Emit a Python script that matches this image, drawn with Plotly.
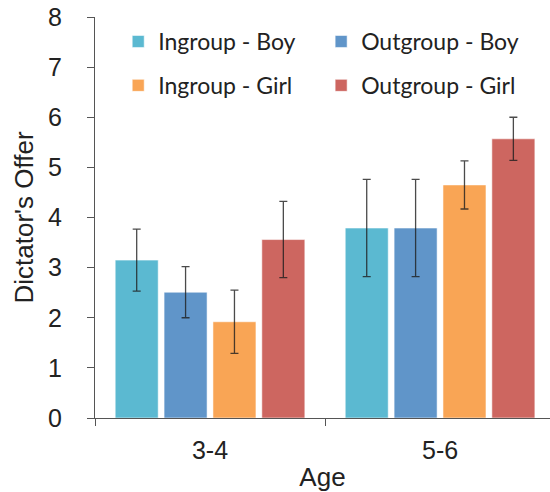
import plotly.graph_objects as go

ages = ["3-4", "5-6"]
series_names = ["Ingroup - Boy", "Outgroup - Boy", "Ingroup - Girl", "Outgroup - Girl"]
means = {
    "Ingroup - Boy": [3.15, 3.79],
    "Outgroup - Boy": [2.51, 3.79],
    "Ingroup - Girl": [1.92, 4.65],
    "Outgroup - Girl": [3.56, 5.57],
}
errors = {
    "Ingroup - Boy": [0.62, 0.97],
    "Outgroup - Boy": [0.51, 0.97],
    "Ingroup - Girl": [0.63, 0.48],
    "Outgroup - Girl": [0.76, 0.43],
}
colors = {
    "Ingroup - Boy": "#5BB9D1",
    "Outgroup - Boy": "#6095C9",
    "Ingroup - Girl": "#F9A555",
    "Outgroup - Girl": "#CD6660",
}
legend_of = {
    "Ingroup - Boy": "legend",
    "Ingroup - Girl": "legend",
    "Outgroup - Boy": "legend2",
    "Outgroup - Girl": "legend2",
}

fig = go.Figure()
for name in series_names:
    fig.add_trace(go.Bar(
        x=ages, y=means[name], name=name,
        marker=dict(color=colors[name], line=dict(color="rgba(255,255,255,0.55)", width=1)),
        error_y=dict(type="data", array=errors[name], color="rgba(30,30,30,0.8)",
                     thickness=1.3, width=4),
        legend=legend_of[name], legendgroup=name,
    ))

axis_color = "#555555"
legend_common = dict(
    orientation="v", traceorder="grouped", tracegroupgap=11,
    font=dict(family="Lato", size=23, color="#222222"),
    bgcolor="rgba(0,0,0,0)", xanchor="left", yanchor="top", y=0.9925,
)
fig.update_layout(
    width=550, height=492,
    margin=dict(l=95, r=0, t=17, b=74, autoexpand=False),
    paper_bgcolor="white", plot_bgcolor="white",
    barmode="group", bargap=0.15, bargroupgap=0.12,
    font=dict(family="Liberation Sans", color="#222222"),
    legend=dict(x=0.051, **legend_common),
    legend2=dict(x=0.497, **legend_common),
    xaxis=dict(
        type="category", range=[-0.5, 1.478], automargin=False,
        showline=True, linecolor=axis_color, linewidth=1.2,
        ticks="outside", tickson="boundaries", ticklen=7, tickcolor=axis_color,
        ticklabelstandoff=10,
        tickfont=dict(size=25, family="Liberation Sans", color="#222222"),
        title=dict(text="Age", font=dict(size=26, family="Liberation Sans"), standoff=6),
        showgrid=False,
    ),
    yaxis=dict(
        range=[0, 8], dtick=1, tick0=0, automargin=False,
        showline=True, linecolor=axis_color, linewidth=1.2,
        ticks="outside", ticklen=7, tickcolor=axis_color,
        ticklabelstandoff=20,
        tickfont=dict(size=25, family="Liberation Sans", color="#222222"),
        title=dict(text="Dictator's Offer", font=dict(size=26, family="Liberation Sans"), standoff=6),
        showgrid=False, zeroline=False,
    ),
)

fig.write_html("out.html", config={"displayModeBar": False},
               post_script="document.body.style.margin='0';")
